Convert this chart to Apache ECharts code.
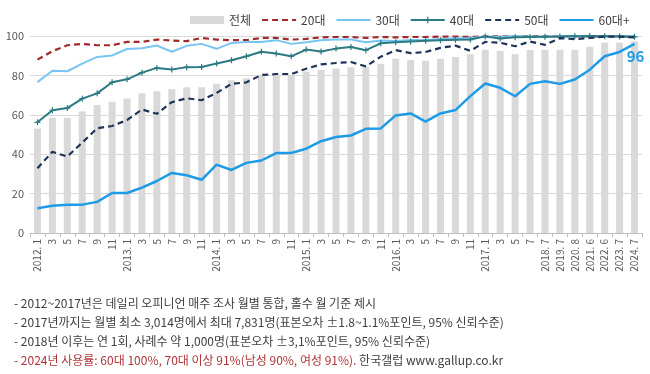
<!DOCTYPE html>
<html><head><meta charset="utf-8">
<script src="https://cdn.jsdelivr.net/npm/echarts@6/dist/echarts.min.js"></script>
<style>html,body{margin:0;padding:0;background:#fff}#c{width:650px;height:374px}</style>
</head><body><div id="c"></div>
<script>
var categories = ["2012. 1","3","5","7","9","11","2013. 1","3","5","7","9","11","2014. 1","3","5","7","9","11","2015. 1","3","5","7","9","11","2016. 1","3","5","7","9","11","2017. 1","3","5","7","2018. 7","2019. 7","2020. 8","2021. 6","2022. 6","2023. 7","2024. 7"];
var total = [53,58.5,58.5,61.7,65,66.6,68.3,71,72,73,74,74,75.7,77.6,78.6,79.8,80,80,82,82.7,83.5,84.2,84.2,85.9,88.5,87.8,87.4,88.4,89.3,90.7,93,92.4,90.7,92.9,93,93,93,94.6,96.7,96.7,97.3];
var age20 = [88,92.3,95.3,96,95.3,95.3,97,97,98.2,97.7,97.4,99,98.2,97.9,97.9,99,99,98.2,98.5,99.3,99.5,99.5,99,99.5,99.3,99.5,99.5,99.7,99.7,99.5,99.8,99.8,99.8,100,99.8,99.9,100,99.8,99.9,99.9,99.8];
var age30 = [76.6,82.4,82.1,86,89.4,90.1,93.4,93.8,95.2,92,95,96,93.5,96.5,97,97,97.9,96,96.8,97.9,98.2,98.2,96.8,97.7,97.5,98,98,98.5,98.8,99,99.8,99.5,100,99.8,99.8,99.9,100,99.8,100,100,99.8];
var age40 = [56.2,62.3,63.4,68.2,70.9,76.5,78,81.4,83.8,83,84.2,84.3,86,87.7,89.7,92,91.1,89.7,93.1,92.1,93.6,94.4,92.8,96.3,96.8,97.2,97.6,97.9,98.1,98.2,99.8,98.7,99.4,99.5,99.6,99.7,99.9,100,99.9,99.8,99.6];
var age50 = [32.9,41.2,38.8,45.9,53.2,54.3,57.3,62.7,60.5,66.4,68.4,67.4,71.1,75.7,76.5,80.2,80.7,80.7,83.4,85.6,86.3,86.8,84.6,89.5,92.8,91.3,91.9,94,95.1,92.5,97,96.6,94.8,97.2,95.5,98.9,98.4,99,99.7,99.7,99.3];
var age60 = [12.6,13.8,14.4,14.4,15.8,20.3,20.3,23,26.4,30.5,29.3,27,34.7,32,35.6,36.8,40.6,40.6,42.8,46.6,48.7,49.5,52.9,53.1,59.7,60.7,56.5,60.7,62.4,69.5,75.9,73.7,69.4,75.7,77,75.7,77.9,82.9,89.7,91.9,96];
var yTicks = [0,20,40,60,80,100];
var notes = [
  "- 2012~2017년은 데일리 오피니언 매주 조사 월별 통합, 홀수 월 기준 제시",
  "- 2017년까지는 월별 최소 3,014명에서 최대 7,831명(표본오차 ±1.8~1.1%포인트, 95% 신뢰수준)",
  "- 2018년 이후는 연 1회, 사례수 약 1,000명(표본오차 ±3,1%포인트, 95% 신뢰수준)"
];
var noteRed = "- 2024년 사용률: 60대 100%, 70대 이상 91%(남성 90%, 여성 91%).";
var noteTail = " 한국갤럽 www.gallup.co.kr";

var FONT = "'Noto Sans CJK KR','Noto Sans',sans-serif";
var chart = echarts.init(document.getElementById('c'), null, {renderer:'canvas'});
var plusPath = 'path://M4,0h2v4h4v2h-4v4h-2v-4h-4v-2h4z';
var last = age60.length - 1;
var noteY = [303, 322, 341];
var graphics = notes.map(function(t,i){
  return {type:'text', x:14, y:noteY[i], style:{text:t, font:"12px " + FONT, fill:'#404040', verticalAlign:'middle'}};
});
graphics.push({type:'text', x:14, y:360, style:{text:'{r|' + noteRed + '}{g|' + noteTail + '}', font:"12px " + FONT, verticalAlign:'middle',
  rich:{r:{fill:'#b0353a', fontSize:12, fontFamily:FONT}, g:{fill:'#404040', fontSize:12, fontFamily:FONT}}}});

var hideSym = {opacity:0};
chart.setOption({
  animation:false,
  textStyle:{fontFamily:FONT},
  legend:{
    top:9, left:185, itemWidth:34, itemHeight:8, itemGap:10,
    textStyle:{fontSize:12, color:'#404040', fontFamily:FONT},
    data:[
      {name:'전체', icon:'rect'},
      {name:'20대', itemStyle:hideSym}, {name:'30대', itemStyle:hideSym}, {name:'40대'}, {name:'50대', itemStyle:hideSym}, {name:'60대+', itemStyle:hideSym}
    ]
  },
  grid:{left:30, right:8, top:36, bottom:141},
  xAxis:{
    type:'category', data:categories, boundaryGap:true,
    axisLine:{lineStyle:{color:'#bfbfbf'}},
    axisTick:{show:true, interval:0, length:4, lineStyle:{color:'#bfbfbf'}},
    axisLabel:{interval:0, rotate:90, fontSize:10, color:'#595959', margin:6, fontFamily:FONT}
  },
  yAxis:{
    type:'value', min:yTicks[0], max:yTicks[yTicks.length-1], interval:20,
    axisLine:{show:false}, axisTick:{show:false},
    axisLabel:{fontSize:11, color:'#595959', margin:6, fontFamily:FONT},
    splitLine:{lineStyle:{color:'#d9d9d9'}}
  },
  series:[
    {name:'전체', type:'bar', data:total, barWidth:7, itemStyle:{color:'#d9d9d9'}, z:1},
    {name:'20대', type:'line', data:age20, symbol:'none', lineStyle:{color:'#a3282b', width:2.2, type:[6,4]}, itemStyle:{color:'#a3282b'}, z:3},
    {name:'30대', type:'line', data:age30, symbol:'none', lineStyle:{color:'#79c5f2', width:2}, itemStyle:{color:'#79c5f2'}, z:4},
    {name:'40대', type:'line', data:age40, symbol:plusPath, symbolSize:6, lineStyle:{color:'#2c7a82', width:2}, itemStyle:{color:'#2c7a82'}, z:5},
    {name:'50대', type:'line', data:age50, symbol:'none', lineStyle:{color:'#1f3459', width:2.2, type:[6,4]}, itemStyle:{color:'#1f3459'}, z:6},
    {name:'60대+', type:'line', data:age60, symbol:'none', lineStyle:{color:'#1e9be6', width:2.5}, itemStyle:{color:'#1e9be6'}, z:7,
      markPoint:{
        symbol:'circle', symbolSize:0, silent:true,
        label:{show:true, position:'inside', offset:[1,12], formatter:'{c}', color:'#1e9be6', fontSize:15, fontWeight:'bold', fontFamily:FONT},
        data:[{coord:[categories[last], age60[last]], value:age60[last]}]
      }}
  ],
  graphic:graphics
});
</script></body></html>
